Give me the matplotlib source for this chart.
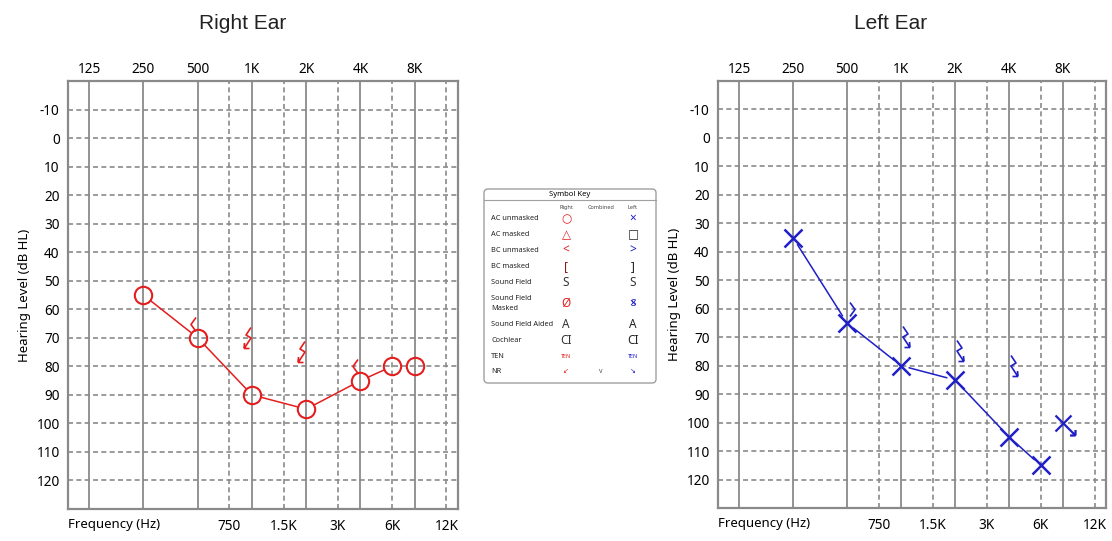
import numpy as np
import matplotlib
matplotlib.use("Agg")
import matplotlib.pyplot as plt
from matplotlib.path import Path
from matplotlib.markers import MarkerStyle
from matplotlib.patches import FancyBboxPatch

plt.rcParams['font.family'] = ['Noto Sans', 'DejaVu Sans']
plt.rcParams['axes.unicode_minus'] = False

# ---- data ----
freqs = [250, 500, 1000, 2000, 4000, 6000, 8000]
right_ac = [55, 70, 90, 95, 85, 80, 80]
right_ac_joined = [True, True, True, True, True, True, False]
left_ac = [35, 65, 80, 85, 105, 115, 100]
left_ac_joined = [True, True, True, True, True, True, False]
left_ac_nr = [False, False, False, False, False, False, True]

bc_freqs = [500, 1000, 2000, 4000]
right_bc = [65, 70, 75, 80]
right_bc_nr = [False, True, True, False]
left_bc = [60, 70, 75, 80]
left_bc_nr = [False, True, True, True]

top_freqs = [125, 250, 500, 1000, 2000, 4000, 8000]
top_labels = ['125', '250', '500', '1K', '2K', '4K', '8K']
mid_freqs = [750, 1500, 3000, 6000, 12000]
mid_labels = ['750', '1.5K', '3K', '6K', '12K']
levels = list(range(-10, 121, 10))

key_rows = ['AC unmasked', 'AC masked', 'BC unmasked', 'BC masked', 'Sound Field',
            'Sound Field\nMasked', 'Sound Field Aided', 'Cochlear', 'TEN', 'NR']
key_right = ['○', '△', '<', '[', 'S', 'Ø', 'A', 'CI', 'TEN', '↙']
key_combined = ['', '', '', '', '', '', '', '', '', 'v']
key_left = ['×', '□', '>', ']', 'S', '×', 'A', 'CI', 'TEN', '↘']

RED = '#e41e1e'
BLUE = '#1f1fc8'
GRID = '#8a8a8a'


def path_marker(segs):
    # segs: list of polylines in pixel units, origin = data point
    verts, codes = [], []
    for seg in segs:
        for i, p in enumerate(seg):
            verts.append(p)
            codes.append(Path.MOVETO if i == 0 else Path.LINETO)
    verts = np.array(verts, float)
    m = np.abs(verts).max()
    mk = MarkerStyle(Path(verts, codes), joinstyle='miter', capstyle='butt')
    return mk, 2 * m * 0.72


def bc_marker(side, nr):
    s = 1 if side == 'L' else -1
    if nr:
        segs = [[(s * -2, 11), (s * 3, 3.5), (s * -2, 0.5), (s * 4.5, -9.5)],
                [(s * 5, -10), (s * 4.5, -4.5)], [(s * 5, -10), (s * -0.5, -10)]]
    else:
        segs = [[(s * -1, 7), (s * 4, 0), (s * -1, -7)]]
    # shift off the frequency line
    segs = [[(x + s * 3.5, y) for x, y in seg] for seg in segs]
    return path_marker(segs)


def x_nr_marker():
    segs = [[(-8, 8), (8, -8), (11.5, -11.5)], [(-8, -8), (8, 8)],
            [(12, -12), (12, -6.5)], [(12, -12), (6.5, -12)]]
    return path_marker(segs)


fig = plt.figure(figsize=(11.12, 5.41), dpi=100)


def setup(ax):
    ax.set_xscale('log', base=2)
    ax.set_xlim(95.5, 13900)
    ax.set_ylim(130, -20)
    ax.set_xticks(top_freqs)
    ax.set_xticklabels(top_labels)
    ax.set_xticks(mid_freqs, minor=True)
    ax.set_xticklabels(mid_labels, minor=True)
    ax.xaxis.set_tick_params(which='major', top=True, bottom=False, labeltop=True,
                             labelbottom=False, length=0, pad=3, labelsize=9.8)
    ax.xaxis.set_tick_params(which='minor', top=False, bottom=True, labeltop=False,
                             labelbottom=True, length=0, pad=7, labelsize=9.8)
    ax.set_yticks(levels)
    ax.set_yticklabels([str(v) for v in levels])
    ax.tick_params(axis='y', length=0, pad=6, labelsize=9.8)
    for f in top_freqs:
        ax.axvline(f, color=GRID, lw=1.3, zorder=1)
    for f in mid_freqs:
        ax.axvline(f, color=GRID, lw=1.2, ls=(0, (3, 2)), zorder=1)
    for v in levels:
        ax.axhline(v, color=GRID, lw=1.2, ls=(0, (3, 2)), zorder=1)
    for sp in ax.spines.values():
        sp.set_color(GRID)
        sp.set_linewidth(1.6)
    ax.set_ylabel('Hearing Level (dB HL)', fontsize=9.5, labelpad=4)
    ax.text(0, -0.037, 'Frequency (Hz)', transform=ax.transAxes, ha='left',
            va='center', fontsize=9.5)


def join(ax, xs, ys, joined, color, shrink):
    for i in range(len(xs) - 1):
        if joined[i] and joined[i + 1]:
            ax.annotate('', xy=(xs[i + 1], ys[i + 1]), xytext=(xs[i], ys[i]),
                        arrowprops=dict(arrowstyle='-', color=color, lw=1.1,
                                        shrinkA=shrink, shrinkB=shrink), zorder=3)


# Right ear
axr = fig.add_axes([68 / 1112, 1 - 509 / 541, 390 / 1112, 428 / 541])
setup(axr)
join(axr, freqs, right_ac, right_ac_joined, RED, 6.5)
axr.plot(freqs, right_ac, 'o', ms=12.5, mfc='none', mec=RED, mew=1.5, zorder=4)
for f, v, nr in zip(bc_freqs, right_bc, right_bc_nr):
    p, ms = bc_marker('R', nr)
    axr.plot([f], [v], marker=p, ms=ms, mfc='none', mec=RED, mew=1.2, ls='none', zorder=4)
fig.text(0.218, 0.957, 'Right Ear', ha='center', va='center', fontsize=15,
         family='Liberation Sans', color='#222222')

# Left ear
axl = fig.add_axes([718 / 1112, 1 - 508 / 541, 388 / 1112, 427 / 541])
setup(axl)
join(axl, freqs, left_ac, left_ac_joined, BLUE, 6)
xnr, xnr_ms = x_nr_marker()
for f, v, nr in zip(freqs, left_ac, left_ac_nr):
    if nr:
        axl.plot([f], [v], marker=xnr, ms=xnr_ms, mfc='none', mec=BLUE, mew=1.6, ls='none', zorder=4)
    else:
        axl.plot([f], [v], 'x', ms=13, mec=BLUE, mew=1.8, ls='none', zorder=4)
for f, v, nr in zip(bc_freqs, left_bc, left_bc_nr):
    p, ms = bc_marker('L', nr)
    axl.plot([f], [v], marker=p, ms=ms, mfc='none', mec=BLUE, mew=1.2, ls='none', zorder=4)
fig.text(0.801, 0.957, 'Left Ear', ha='center', va='center', fontsize=15,
         family='Liberation Sans', color='#222222')

# Symbol key
axk = fig.add_axes([483 / 1112, 1 - 385 / 541, 175 / 1112, 198 / 541])
axk.set_xlim(-1, 174)
axk.set_ylim(196, -2)
axk.axis('off')
axk.add_patch(FancyBboxPatch((0, 0), 172, 194, boxstyle='round,pad=0,rounding_size=4',
                             fc='white', ec='#a0a0a0', lw=1.0))
axk.plot([0, 172], [11, 11], color='#a0a0a0', lw=0.8)
axk.text(86, 5.5, 'Symbol Key', ha='center', va='center', fontsize=5.5)
for x, t in zip([82, 116.7, 149], ['Right', 'Combined', 'Left']):
    axk.text(x, 18.7, t, ha='center', va='center', fontsize=4, color='#444444')
row_y = [29.3, 45.3, 61.3, 77.3, 93.3, 114.3, 135, 151, 167, 182.7]
right_cols = [RED, RED, RED, '#8b1a1a', '#333333', RED, '#333333', '#333333', RED, RED]
left_cols = [BLUE, '#222222', BLUE, '#222222', '#333333', BLUE, '#222222', '#222222', BLUE, BLUE]
for y, lab, r, c, l, rc, lc in zip(row_y, key_rows, key_right, key_combined, key_left,
                                   right_cols, left_cols):
    axk.text(7, y, lab, ha='left', va='center', fontsize=5.3, color='#222222',
             linespacing=1.6)
    fs = 4 if lab == 'TEN' else (5 if lab == 'NR' else 8.5)
    w = 'bold' if lab == 'TEN' else 'normal'
    axk.text(82, y, r, ha='center', va='center', fontsize=fs, color=rc, weight=w)
    axk.text(116.7, y, c, ha='center', va='center', fontsize=5, color='#555555')
    axk.text(149, y, l, ha='center', va='center', fontsize=fs, color=lc, weight=w)
    if lab.startswith('Sound Field\n'):
        axk.text(149, y, 'S', ha='center', va='center', fontsize=7, color=BLUE)

fig.savefig('out.png', dpi=100)
